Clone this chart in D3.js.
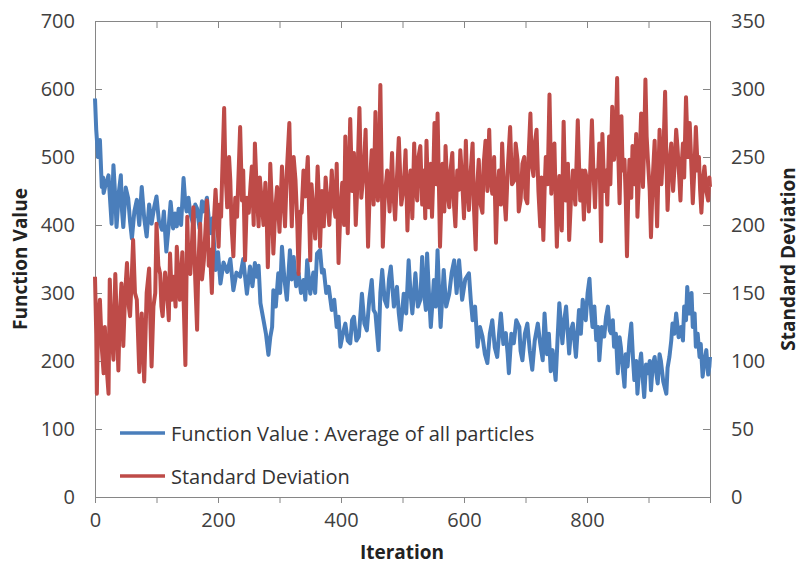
<!DOCTYPE html>
<html><head><meta charset="utf-8">
<script src="https://cdn.jsdelivr.net/npm/d3@7"></script>
<style>body{margin:0;background:#fff} text{font-family:"Open Sans",sans-serif}</style>
</head><body><svg id="c" width="800" height="570"></svg>
<script>
// [iteration, value] — Function Value: average of all particles (left axis)
const fvPoints=[[0,586],[2,540],[5,500],[8,525],[11,456],[13,470],[14,447],[18,462],[22,473],[25,430],[27,402],[30,488],[33,440],[35,397],[39,450],[42,473],[44,420],[46,397],[50,455],[54,439],[57,405],[60,380],[64,420],[68,437],[72,400],[76,456],[80,410],[84,383],[88,430],[92,402],[96,425],[100,442],[104,405],[109,393],[112,420],[116,361],[120,400],[123,434],[127,395],[130,417],[133,398],[136,424],[140,400],[144,469],[147,430],[149,420],[152,440],[155,417],[160,400],[163,430],[166,424],[170,395],[174,435],[177,420],[182,440],[187,388],[191,410],[196,334],[200,360],[204,314],[209,345],[215,331],[220,350],[225,304],[230,330],[236,324],[241,350],[247,299],[252,339],[256,310],[260,344],[263,324],[266,340],[269,285],[274,260],[278,240],[282,209],[285,235],[288,250],[290,304],[294,280],[298,329],[301,300],[304,368],[308,320],[312,290],[317,363],[320,320],[323,353],[327,310],[331,329],[335,300],[339,319],[342,290],[345,348],[350,299],[355,330],[358,300],[361,358],[366,363],[369,330],[372,334],[376,300],[380,309],[385,275],[389,290],[393,250],[396,265],[399,221],[403,240],[407,255],[411,230],[415,226],[418,260],[421,265],[425,230],[429,236],[434,299],[438,255],[442,245],[446,290],[450,319],[453,275],[456,270],[461,216],[464,300],[467,334],[471,290],[475,280],[478,320],[481,339],[486,280],[491,309],[494,270],[497,246],[502,299],[506,270],[510,348],[513,300],[516,270],[521,329],[525,280],[529,290],[532,353],[535,300],[538,275],[540,358],[543,300],[546,250],[549,290],[551,319],[554,280],[557,363],[560,290],[562,250],[565,300],[567,334],[571,280],[576,299],[580,330],[584,348],[588,300],[592,348],[597,290],[602,320],[608,329],[611,290],[614,260],[618,280],[622,221],[626,250],[630,236],[634,210],[638,197],[642,240],[646,260],[650,220],[654,206],[657,240],[660,270],[664,225],[668,241],[671,210],[673,182],[677,240],[681,226],[685,260],[690,250],[692,215],[695,201],[699,240],[703,255],[707,215],[711,187],[715,230],[720,255],[724,225],[728,201],[731,270],[735,210],[738,240],[741,185],[744,216],[749,172],[752,230],[755,285],[760,226],[763,260],[766,280],[771,211],[774,245],[777,255],[782,206],[787,275],[790,240],[793,290],[798,260],[801,300],[804,321],[807,270],[809,250],[812,280],[815,231],[818,250],[820,201],[824,250],[828,236],[831,265],[834,280],[837,245],[839,241],[842,260],[844,221],[847,240],[850,182],[853,235],[855,221],[858,190],[861,162],[863,210],[866,192],[869,230],[872,255],[875,200],[877,172],[880,200],[882,152],[885,190],[888,211],[891,170],[893,147],[896,195],[899,182],[902,200],[904,157],[907,195],[910,206],[913,180],[915,167],[918,210],[920,201],[924,170],[929,152],[931,190],[934,206],[937,230],[939,255],[942,240],[945,270],[949,235],[953,250],[956,230],[958,280],[961,260],[963,309],[966,270],[968,280],[970,300],[972,250],[975,270],[977,221],[980,240],[983,206],[985,225],[988,177],[991,200],[994,216],[997,180],[999,192],[1000,206]];
// [iteration, value] — Standard Deviation (right axis)
const sdPoints=[[0,162],[2,120],[3,76],[5,130],[8,145],[11,110],[14,91],[16,125],[19,95],[22,76],[24,160],[27,120],[30,101],[33,164],[36,120],[38,93],[40,130],[43,157],[46,111],[49,150],[52,172],[55,140],[57,133],[60,165],[62,189],[65,150],[68,145],[72,92],[74,120],[76,135],[78,110],[80,85],[84,150],[88,168],[90,130],[92,96],[95,140],[98,150],[100,201],[103,170],[106,164],[108,140],[110,133],[114,165],[117,152],[120,130],[122,179],[125,145],[128,162],[131,140],[133,184],[136,160],[138,145],[142,180],[145,130],[147,97],[150,206],[152,170],[155,164],[158,190],[160,213],[163,160],[166,123],[168,170],[171,201],[174,160],[177,174],[180,200],[182,218],[185,170],[187,182],[190,150],[193,200],[196,226],[199,200],[201,184],[203,215],[205,206],[207,240],[210,286],[212,240],[215,213],[218,250],[220,233],[222,200],[225,177],[228,220],[231,206],[234,245],[236,272],[239,218],[241,240],[244,174],[247,220],[250,209],[253,230],[255,243],[258,200],[260,260],[263,225],[266,199],[268,235],[271,218],[274,200],[277,231],[279,210],[281,169],[283,200],[285,245],[288,210],[290,179],[293,210],[296,228],[300,195],[304,243],[307,215],[309,199],[312,240],[316,275],[318,230],[320,199],[323,250],[326,233],[329,200],[331,164],[334,210],[336,209],[339,240],[342,221],[346,250],[350,174],[352,230],[355,211],[358,190],[362,243],[364,220],[366,184],[369,225],[372,199],[375,235],[377,223],[381,200],[385,240],[388,215],[391,206],[393,245],[396,172],[399,210],[402,231],[405,200],[407,265],[409,225],[411,194],[413,240],[415,278],[418,225],[421,253],[424,200],[426,223],[428,255],[430,286],[433,220],[437,240],[440,270],[444,184],[447,230],[450,255],[453,215],[456,283],[458,240],[460,218],[462,250],[464,303],[466,240],[468,184],[471,220],[475,240],[479,210],[483,253],[485,225],[488,204],[491,235],[494,264],[498,215],[502,228],[505,255],[508,196],[510,225],[513,240],[516,205],[519,260],[521,230],[524,218],[526,250],[529,258],[532,215],[535,240],[537,205],[539,262],[541,230],[543,213],[546,245],[548,206],[550,235],[552,275],[555,230],[557,282],[559,235],[561,184],[563,215],[565,245],[568,210],[570,258],[573,225],[576,213],[578,240],[581,253],[583,220],[586,199],[589,240],[592,226],[594,255],[597,233],[600,205],[603,262],[605,230],[608,211],[611,240],[614,260],[616,215],[619,182],[621,225],[624,248],[627,215],[630,209],[632,245],[635,262],[638,225],[641,270],[643,235],[646,223],[649,250],[652,187],[654,220],[657,240],[660,215],[662,260],[665,225],[668,204],[671,240],[675,272],[678,230],[682,233],[684,260],[687,248],[689,210],[692,218],[695,245],[698,250],[700,220],[703,216],[705,250],[708,282],[710,245],[713,236],[715,260],[718,270],[721,225],[724,199],[726,235],[729,189],[731,225],[733,250],[736,230],[739,296],[742,223],[744,245],[747,260],[749,220],[751,184],[753,215],[755,236],[757,210],[759,196],[762,276],[764,235],[766,218],[769,245],[771,189],[774,220],[777,240],[781,215],[785,277],[787,245],[789,218],[792,240],[795,204],[797,240],[800,233],[803,210],[806,250],[808,277],[810,245],[813,213],[815,240],[818,236],[820,260],[823,188],[825,267],[828,225],[831,240],[833,215],[836,265],[838,230],[841,287],[844,248],[847,270],[849,308],[851,250],[853,216],[856,280],[858,240],[861,248],[863,220],[865,177],[867,220],[869,248],[872,220],[874,258],[877,230],[880,267],[882,206],[885,240],[888,282],[891,228],[893,260],[895,307],[897,265],[899,248],[902,225],[904,191],[907,235],[910,262],[912,230],[914,199],[916,235],[918,270],[921,230],[923,248],[925,265],[927,298],[929,250],[931,211],[934,245],[937,260],[940,225],[942,240],[945,270],[947,258],[950,235],[952,218],[954,245],[956,260],[958,235],[961,294],[964,250],[967,275],[970,240],[972,216],[975,245],[977,272],[980,240],[982,250],[984,225],[986,209],[989,235],[991,243],[994,225],[997,218],[999,235],[1000,228]];
const xTicks=[0,100,200,300,400,500,600,700,800,900,1000];
const xLabelTicks=[0,200,400,600,800];
const yLeftTicks=[0,100,200,300,400,500,600,700];
const yRightTicks=[0,50,100,150,200,250,300,350];
const seriesNames=["Function Value : Average of all particles","Standard Deviation"];

const L=95,R=710,T=21,B=497;
const svg=d3.select("#c");
const x=d3.scaleLinear().domain([0,1000]).range([L,R]);
const yL=d3.scaleLinear().domain([0,700]).range([B,T]);
const yR=d3.scaleLinear().domain([0,350]).range([B,T]);
const axisColor="#868686", textColor="#404040";
const lcol=["#4a7ebb","#be4b48"];

function style(g){
  g.selectAll(".domain").attr("stroke",axisColor).attr("stroke-width",1);
  g.selectAll(".tick line").attr("stroke",axisColor);
  g.selectAll(".tick text").attr("fill",textColor).attr("font-size",20).attr("font-family","Open Sans, sans-serif");
}
svg.append("g").attr("transform",`translate(0,${T})`)
  .call(d3.axisTop(x).tickValues(xTicks).tickSize(-7).tickSizeOuter(0).tickFormat("")).call(style);
svg.append("g").attr("transform",`translate(${L},0)`)
  .call(d3.axisLeft(yL).tickValues(yLeftTicks).tickSize(-7).tickSizeOuter(0).tickPadding(20).tickFormat(d3.format("d"))).call(style);
svg.append("g").attr("transform",`translate(${R},0)`)
  .call(d3.axisRight(yR).tickValues(yRightTicks).tickSize(-7).tickSizeOuter(0).tickPadding(21).tickFormat(d3.format("d"))).call(style);
svg.append("g").attr("transform",`translate(0,${B})`)
  .call(d3.axisBottom(x).tickValues(xTicks).tickSize(6).tickSizeOuter(0).tickPadding(10).tickFormat(d=>xLabelTicks.includes(d)?d:"")).call(style);

svg.append("path").datum(fvPoints).attr("fill","none").attr("stroke",lcol[0]).attr("stroke-width",4).attr("stroke-linejoin","round")
  .attr("d",d3.line().x(d=>x(d[0])).y(d=>yL(d[1])));
svg.append("path").datum(sdPoints).attr("fill","none").attr("stroke",lcol[1]).attr("stroke-width",4).attr("stroke-linejoin","round")
  .attr("d",d3.line().x(d=>x(d[0])).y(d=>yR(d[1])));

const lg=svg.append("g");
seriesNames.forEach((n,i)=>{
  const yy=433+i*43;
  lg.append("line").attr("x1",120).attr("x2",165).attr("y1",yy).attr("y2",yy).attr("stroke",lcol[i]).attr("stroke-width",3.5);
  lg.append("text").attr("x",171).attr("y",yy+8).attr("font-size",20).attr("fill","#333").text(n);
});

svg.append("text").attr("transform","translate(27,259) rotate(-90)").attr("text-anchor","middle")
  .attr("font-size",19).attr("font-weight","bold").attr("fill","#222").text("Function Value");
svg.append("text").attr("transform","translate(795,259) rotate(-90)").attr("text-anchor","middle")
  .attr("font-size",19).attr("font-weight","bold").attr("fill","#222").text("Standard Deviation");
svg.append("text").attr("x",402).attr("y",559).attr("text-anchor","middle")
  .attr("font-size",19).attr("font-weight","bold").attr("fill","#222").text("Iteration");
</script></body></html>
